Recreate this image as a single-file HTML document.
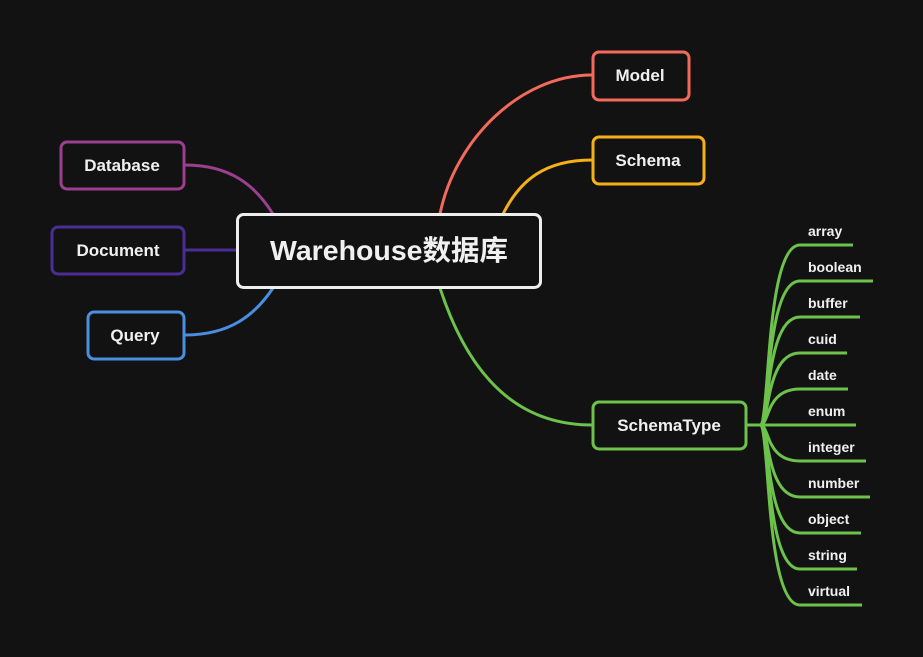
<!DOCTYPE html>
<html><head><meta charset="utf-8"><style>
html,body{margin:0;padding:0;background:#121212;}
svg{display:block;}
text{font-family:"Liberation Sans","Noto Sans CJK SC",sans-serif;font-weight:bold;fill:#f0f0f0;}
</style></head><body>
<svg width="923" height="657" viewBox="0 0 923 657">
<rect width="923" height="657" fill="#121212"/>
<g fill="none" stroke-width="3">
<path d="M440,214 C455,140 520,75 592,75" stroke="#f46a5a"/>
<path d="M503,214 C520,180 545,160 592,160" stroke="#f5b017"/>
<path d="M440,288 C470,380 520,425 592,425" stroke="#6cc24a"/>
<path d="M273,214 C255,185 230,165 185,165" stroke="#9b3f8f"/>
<path d="M236,250 L185,250" stroke="#4a2e96"/>
<path d="M273,288 C255,315 230,335 185,335" stroke="#4a8ee0"/>
</g>
<g fill="none" stroke="#6cc24a" stroke-width="3">
<path d="M747,425 L760,425"/>
<path d="M760,425 C770,425 765,245 800,245 L853,245"/>
<path d="M760,425 C770,425 765,281 800,281 L873,281"/>
<path d="M760,425 C770,425 765,317 800,317 L860,317"/>
<path d="M760,425 C770,425 765,353 800,353 L847,353"/>
<path d="M760,425 C770,425 765,389 800,389 L848,389"/>
<path d="M760,425 L856,425"/>
<path d="M760,425 C770,425 765,461 800,461 L866,461"/>
<path d="M760,425 C770,425 765,497 800,497 L870,497"/>
<path d="M760,425 C770,425 765,533 800,533 L861,533"/>
<path d="M760,425 C770,425 765,569 800,569 L857,569"/>
<path d="M760,425 C770,425 765,605 800,605 L862,605"/>
</g>
<g fill="#121212" stroke-width="3">
<rect x="237.5" y="214.5" width="303" height="73" rx="6" stroke="#eeeeee"/>
<rect x="593" y="52" width="96" height="48" rx="6" stroke="#f46a5a"/>
<rect x="593" y="137" width="111" height="47" rx="6" stroke="#f5b017"/>
<rect x="593" y="402" width="153" height="47" rx="6" stroke="#6cc24a"/>
<rect x="61" y="142" width="123" height="47" rx="6" stroke="#9b3f8f"/>
<rect x="52" y="227" width="132" height="47" rx="6" stroke="#4a2e96"/>
<rect x="88" y="312" width="96" height="47" rx="6" stroke="#4a8ee0"/>
</g>
<text x="389" y="260" font-size="28" text-anchor="middle" textLength="238" lengthAdjust="spacingAndGlyphs">Warehouse数据库</text>
<g font-size="17" text-anchor="middle">
<text x="640" y="81">Model</text>
<text x="648" y="166">Schema</text>
<text x="669" y="431">SchemaType</text>
<text x="122" y="171">Database</text>
<text x="118" y="256">Document</text>
<text x="135" y="341">Query</text>
</g>
<g font-size="14">
<text x="808" y="236">array</text>
<text x="808" y="272">boolean</text>
<text x="808" y="308">buffer</text>
<text x="808" y="344">cuid</text>
<text x="808" y="380">date</text>
<text x="808" y="416">enum</text>
<text x="808" y="452">integer</text>
<text x="808" y="488">number</text>
<text x="808" y="524">object</text>
<text x="808" y="560">string</text>
<text x="808" y="596">virtual</text>
</g>
</svg>
</body></html>
